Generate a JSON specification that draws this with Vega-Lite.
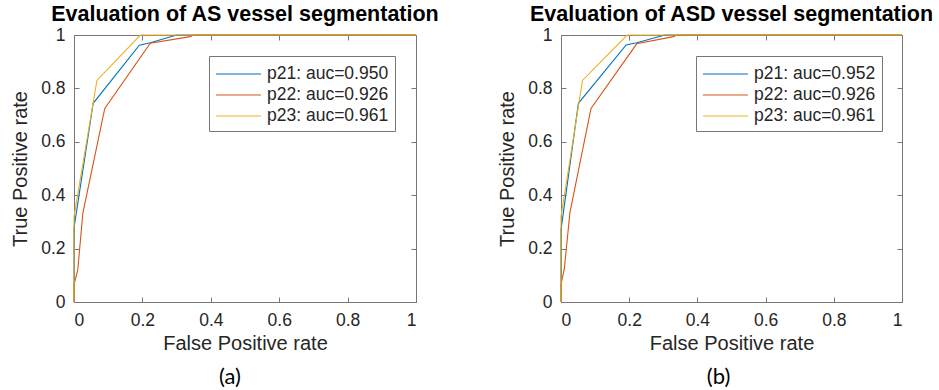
{
  "$schema": "https://vega.github.io/schema/vega-lite/v6.json",
  "background": "white",
  "padding": {"left": 10, "top": 3, "right": 5, "bottom": 0},
  "datasets": {
    "a": [
      {"series": "p21: auc=0.950", "i": 0, "fpr": 0, "tpr": 0},
      {"series": "p21: auc=0.950", "i": 1, "fpr": 0, "tpr": 0.277},
      {"series": "p21: auc=0.950", "i": 2, "fpr": 0.056, "tpr": 0.744},
      {"series": "p21: auc=0.950", "i": 3, "fpr": 0.191, "tpr": 0.962},
      {"series": "p21: auc=0.950", "i": 4, "fpr": 0.223, "tpr": 0.971},
      {"series": "p21: auc=0.950", "i": 5, "fpr": 0.3, "tpr": 1},
      {"series": "p21: auc=0.950", "i": 6, "fpr": 1, "tpr": 1},
      {"series": "p22: auc=0.926", "i": 0, "fpr": 0, "tpr": 0},
      {"series": "p22: auc=0.926", "i": 1, "fpr": 0, "tpr": 0.065},
      {"series": "p22: auc=0.926", "i": 2, "fpr": 0.011, "tpr": 0.12},
      {"series": "p22: auc=0.926", "i": 3, "fpr": 0.026, "tpr": 0.334},
      {"series": "p22: auc=0.926", "i": 4, "fpr": 0.09, "tpr": 0.725},
      {"series": "p22: auc=0.926", "i": 5, "fpr": 0.223, "tpr": 0.969},
      {"series": "p22: auc=0.926", "i": 6, "fpr": 0.34, "tpr": 0.994},
      {"series": "p22: auc=0.926", "i": 7, "fpr": 0.35, "tpr": 1},
      {"series": "p22: auc=0.926", "i": 8, "fpr": 1, "tpr": 1},
      {"series": "p23: auc=0.961", "i": 0, "fpr": 0, "tpr": 0},
      {"series": "p23: auc=0.961", "i": 1, "fpr": 0, "tpr": 0.32},
      {"series": "p23: auc=0.961", "i": 2, "fpr": 0.067, "tpr": 0.83},
      {"series": "p23: auc=0.961", "i": 3, "fpr": 0.194, "tpr": 1},
      {"series": "p23: auc=0.961", "i": 4, "fpr": 1, "tpr": 1}
    ],
    "b": [
      {"series": "p21: auc=0.952", "i": 0, "fpr": 0, "tpr": 0},
      {"series": "p21: auc=0.952", "i": 1, "fpr": 0, "tpr": 0.27},
      {"series": "p21: auc=0.952", "i": 2, "fpr": 0.051, "tpr": 0.744},
      {"series": "p21: auc=0.952", "i": 3, "fpr": 0.191, "tpr": 0.963},
      {"series": "p21: auc=0.952", "i": 4, "fpr": 0.222, "tpr": 0.971},
      {"series": "p21: auc=0.952", "i": 5, "fpr": 0.305, "tpr": 1},
      {"series": "p21: auc=0.952", "i": 6, "fpr": 1, "tpr": 1},
      {"series": "p22: auc=0.926", "i": 0, "fpr": 0, "tpr": 0},
      {"series": "p22: auc=0.926", "i": 1, "fpr": 0, "tpr": 0.065},
      {"series": "p22: auc=0.926", "i": 2, "fpr": 0.01, "tpr": 0.127},
      {"series": "p22: auc=0.926", "i": 3, "fpr": 0.026, "tpr": 0.334},
      {"series": "p22: auc=0.926", "i": 4, "fpr": 0.088, "tpr": 0.725},
      {"series": "p22: auc=0.926", "i": 5, "fpr": 0.222, "tpr": 0.967},
      {"series": "p22: auc=0.926", "i": 6, "fpr": 0.33, "tpr": 0.994},
      {"series": "p22: auc=0.926", "i": 7, "fpr": 0.34, "tpr": 1},
      {"series": "p22: auc=0.926", "i": 8, "fpr": 1, "tpr": 1},
      {"series": "p23: auc=0.961", "i": 0, "fpr": 0, "tpr": 0},
      {"series": "p23: auc=0.961", "i": 1, "fpr": 0, "tpr": 0.32},
      {"series": "p23: auc=0.961", "i": 2, "fpr": 0.063, "tpr": 0.83},
      {"series": "p23: auc=0.961", "i": 3, "fpr": 0.194, "tpr": 1},
      {"series": "p23: auc=0.961", "i": 4, "fpr": 1, "tpr": 1}
    ]
  },
  "hconcat": [
    {
      "title": {"text": "(a)", "orient": "bottom", "anchor": "middle", "font": "Lato", "fontSize": 22, "fontWeight": "normal", "color": "black", "offset": 13, "dx": 5},
      "vconcat": [
        {
          "data": {"name": "a"},
          "title": {"text": "Evaluation of AS vessel segmentation", "anchor": "middle", "offset": 1},
          "width": 342,
          "height": 267,
          "layer": [
            {
              "mark": {"type": "line", "strokeWidth": 1.1, "clip": false},
              "encoding": {
                "x": {"field": "fpr", "type": "quantitative", "scale": {"domain": [0, 1], "nice": false}, "axis": {"orient": "bottom", "title": "False Positive rate", "values": [0, 0.2, 0.4, 0.6, 0.8, 1], "format": "~g"}},
                "y": {"field": "tpr", "type": "quantitative", "scale": {"domain": [0, 1], "nice": false}, "axis": {"orient": "left", "title": "True Positive rate", "titlePadding": 10, "values": [0, 0.2, 0.4, 0.6, 0.8, 1], "format": "~g"}},
                "color": {"field": "series", "type": "nominal", "scale": {"range": ["#0072BD", "#D95319", "#EDB120"]}, "legend": {"legendX": 135, "legendY": 21}},
                "order": {"field": "i", "type": "quantitative"}
              }
            },
            {
              "mark": {"type": "point", "opacity": 0},
              "encoding": {
                "x": {"field": "fpr", "type": "quantitative", "scale": {"domain": [0, 1], "nice": false}, "axis": {"orient": "top", "title": null, "labels": false, "domain": false, "values": [0, 0.2, 0.4, 0.6, 0.8, 1]}},
                "y": {"field": "tpr", "type": "quantitative", "scale": {"domain": [0, 1], "nice": false}, "axis": {"orient": "right", "title": null, "labels": false, "domain": false, "values": [0, 0.2, 0.4, 0.6, 0.8, 1]}}
              }
            }
          ],
          "resolve": {"axis": {"x": "independent", "y": "independent"}}
        }
      ]
    },
    {
      "title": {"text": "(b)", "orient": "bottom", "anchor": "middle", "font": "Lato", "fontSize": 22, "fontWeight": "normal", "color": "black", "offset": 13, "dx": 3},
      "vconcat": [
        {
          "data": {"name": "b"},
          "title": {"text": "Evaluation of ASD vessel segmentation", "anchor": "middle", "offset": 1},
          "width": 341,
          "height": 267,
          "layer": [
            {
              "mark": {"type": "line", "strokeWidth": 1.1, "clip": false},
              "encoding": {
                "x": {"field": "fpr", "type": "quantitative", "scale": {"domain": [0, 1], "nice": false}, "axis": {"orient": "bottom", "title": "False Positive rate", "values": [0, 0.2, 0.4, 0.6, 0.8, 1], "format": "~g"}},
                "y": {"field": "tpr", "type": "quantitative", "scale": {"domain": [0, 1], "nice": false}, "axis": {"orient": "left", "title": "True Positive rate", "titlePadding": 10, "values": [0, 0.2, 0.4, 0.6, 0.8, 1], "format": "~g"}},
                "color": {"field": "series", "type": "nominal", "scale": {"range": ["#0072BD", "#D95319", "#EDB120"]}, "legend": {"legendX": 135, "legendY": 21}},
                "order": {"field": "i", "type": "quantitative"}
              }
            },
            {
              "mark": {"type": "point", "opacity": 0},
              "encoding": {
                "x": {"field": "fpr", "type": "quantitative", "scale": {"domain": [0, 1], "nice": false}, "axis": {"orient": "top", "title": null, "labels": false, "domain": false, "values": [0, 0.2, 0.4, 0.6, 0.8, 1]}},
                "y": {"field": "tpr", "type": "quantitative", "scale": {"domain": [0, 1], "nice": false}, "axis": {"orient": "right", "title": null, "labels": false, "domain": false, "values": [0, 0.2, 0.4, 0.6, 0.8, 1]}}
              }
            }
          ],
          "resolve": {"axis": {"x": "independent", "y": "independent"}}
        }
      ]
    }
  ],
  "spacing": 57,
  "resolve": {"scale": {"color": "independent"}, "legend": {"color": "independent"}},
  "config": {
    "font": "Liberation Sans",
    "view": {"stroke": "#777", "strokeWidth": 1},
    "title": {"font": "Liberation Sans", "fontSize": 21.5, "fontWeight": "bold", "color": "black"},
    "axis": {
      "grid": false,
      "domainColor": "#777",
      "tickColor": "#777",
      "tickSize": -5,
      "labelFont": "Liberation Sans",
      "labelFontSize": 17.5,
      "labelColor": "#262626",
      "labelPadding": 14,
      "titleFont": "Liberation Sans",
      "titleFontSize": 20,
      "titleFontWeight": "normal",
      "titleColor": "#262626",
      "titlePadding": 5
    },
    "legend": {
      "title": null,
      "orient": "none",
      "symbolType": "M-1,0L3.09,0",
      "symbolSize": 484,
      "symbolStrokeWidth": 1.2,
      "labelFont": "Liberation Sans",
      "labelFontSize": 17.5,
      "labelColor": "#262626",
      "labelOffset": 28,
      "strokeColor": "#777",
      "fillColor": "white",
      "padding": 6,
      "rowPadding": 0
    }
  }
}
